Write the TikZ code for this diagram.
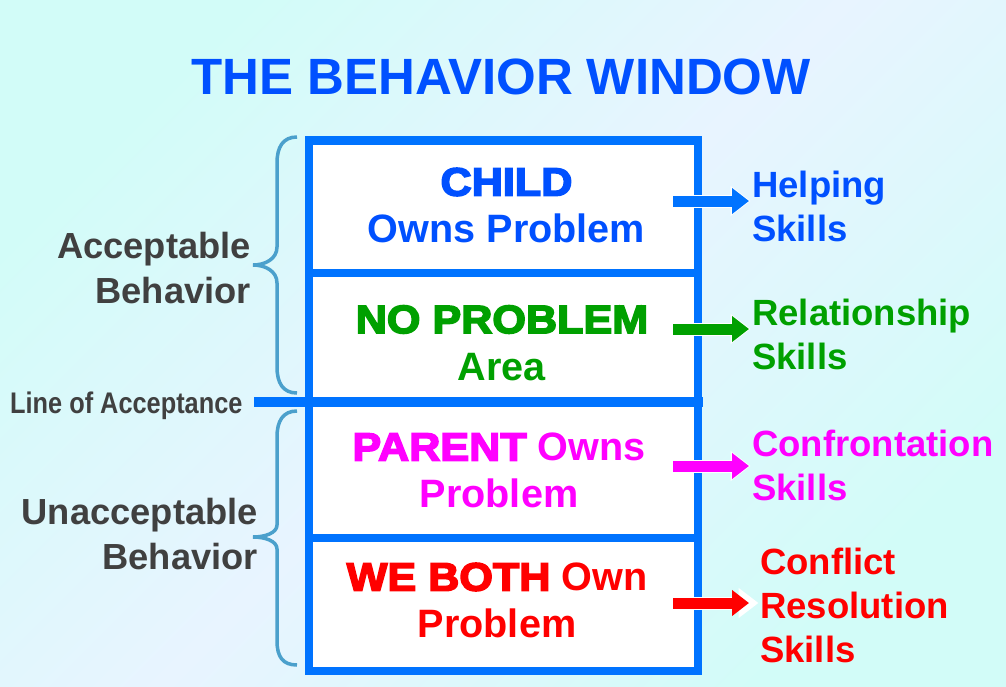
\documentclass[tikz,border=0pt]{standalone}
\usepackage{fontspec}
\setmainfont{Liberation Sans}
\newfontface\heavyfont{Liberation Sans Bold}[FakeBold=4,FakeStretch=1.09]
\newfontface\narrowfont{Liberation Sans Bold}[FakeStretch=0.85]
\usetikzlibrary{arrows.meta}
\definecolor{bgcyan}{RGB}{210,252,248}
\definecolor{bgpale}{RGB}{232,244,255}
\definecolor{frameblue}{RGB}{0,115,255}
\definecolor{titleblue}{RGB}{0,80,255}
\definecolor{skillgreen}{RGB}{0,160,0}
\definecolor{skillmagenta}{RGB}{255,0,255}
\definecolor{skillred}{RGB}{255,0,0}
\definecolor{labelgray}{RGB}{64,64,64}
\definecolor{bracecolor}{RGB}{75,160,204}

\begin{document}
\begin{tikzpicture}[x=1pt ,y=-1pt ,
frame/.style ={ draw=frameblue , line width =8.5pt , fill=white},
divider/.style ={ draw=frameblue , line width =8pt},
accline/.style ={ draw=frameblue , line width =10pt},
brace/.style ={ draw=bracecolor , line width =3.5pt},
cell/.style ={ align=center , inner sep =0pt , font=\bfseries\fontsize{39.6}{47}\selectfont},
skill/.style ={ anchor=west , align=left , inner sep =0pt , font=\bfseries\fontsize{36.5}{44}\selectfont},
side/.style ={ anchor=east , align=right , inner sep =0pt , text=labelgray ,
font=\bfseries\fontsize{36.3}{44.5}\selectfont},
skillarrow/.style ={ line width =11pt , -{Triangle[width=25pt,length=17pt]} , shorten >=3pt ,
preaction={draw=white , line width =13pt , -{Triangle[width=29pt,length=20pt]} , shorten >=1.5pt}}]

\shade[top color=bgcyan , bottom color=bgcyan , middle color=bgpale , shading angle=45] (0,0) rectangle (1006,686);

\node[anchor=base , inner sep =0pt , text=titleblue , font=\bfseries\fontsize{51}{60}\selectfont] (title) at (501,94) {THE BEHAVIOR WINDOW};

\draw[frame] (309,140.5) rectangle (698,671);
\draw[divider] (309,273) -- (698,273);
\draw[divider] (309,538) -- (698,538);
\draw[accline] (254,401.5) -- (702.5,401.5);

\node[cell , text=titleblue] (child) at (506.5,205.5) {{\heavyfont CHILD}\\Owns Problem};
\node[cell , text=skillgreen] (noprob) at (502,343) {{\heavyfont NO PROBLEM}\\Area};
\node[cell , text=skillmagenta] (parent) at (499,470.5) {{\heavyfont PARENT} Owns\\Problem};
\node[cell , text=skillred] (both) at (497,600.5) {{\heavyfont WE BOTH} Own\\Problem};

\node[skill , text=titleblue] (helping) at (752,206) {Helping\\Skills};
\node[skill , text=skillgreen] (relation) at (752,334) {Relationship\\Skills};
\node[skill , text=skillmagenta] (confront) at (752,465) {Confrontation\\Skills};
\node[skill , text=skillred] (conflict) at (760,605) {Conflict\\Resolution\\Skills};

\node[side] (accept) at (251,268) {Acceptable\\Behavior};
\node[side] (unaccept) at (258,534) {Unacceptable\\Behavior};
\node[anchor=base west , inner sep =0pt , text=labelgray , font=\narrowfont\fontsize{29.8}{36}\selectfont] (loa) at (10,413) {Line of Acceptance};

\draw[brace] (297,137) .. controls (283,137) and (277,147) .. (277,163) -- (277,247)
.. controls (277,259) and (265,265) .. (253,265) .. controls (265,265) and (277,271) .. (277,283)
-- (277,367) .. controls (277,383) and (283,393) .. (297,393);
\draw[brace] (297,411) .. controls (283,411) and (277,421) .. (277,437) -- (277,525)
.. controls (277,533) and (265,537) .. (253,537) .. controls (265,537) and (277,541) .. (277,549)
-- (277,641) .. controls (277,657) and (283,665) .. (297,665);

\coordinate (out1) at (673,201);
\coordinate (out2) at (673,329);
\coordinate (out3) at (673,466);
\coordinate (out4) at (673,603);

\draw[skillarrow , frameblue] (out1) -- (out1 -| helping.west);
\draw[skillarrow , skillgreen] (out2) -- (out2 -| relation.west);
\draw[skillarrow , skillmagenta] (out3) -- (out3 -| confront.west);
\draw[skillarrow , skillred , shorten >=11pt] (out4) -- (out4 -| conflict.west);
\end{tikzpicture}
\end{document}
